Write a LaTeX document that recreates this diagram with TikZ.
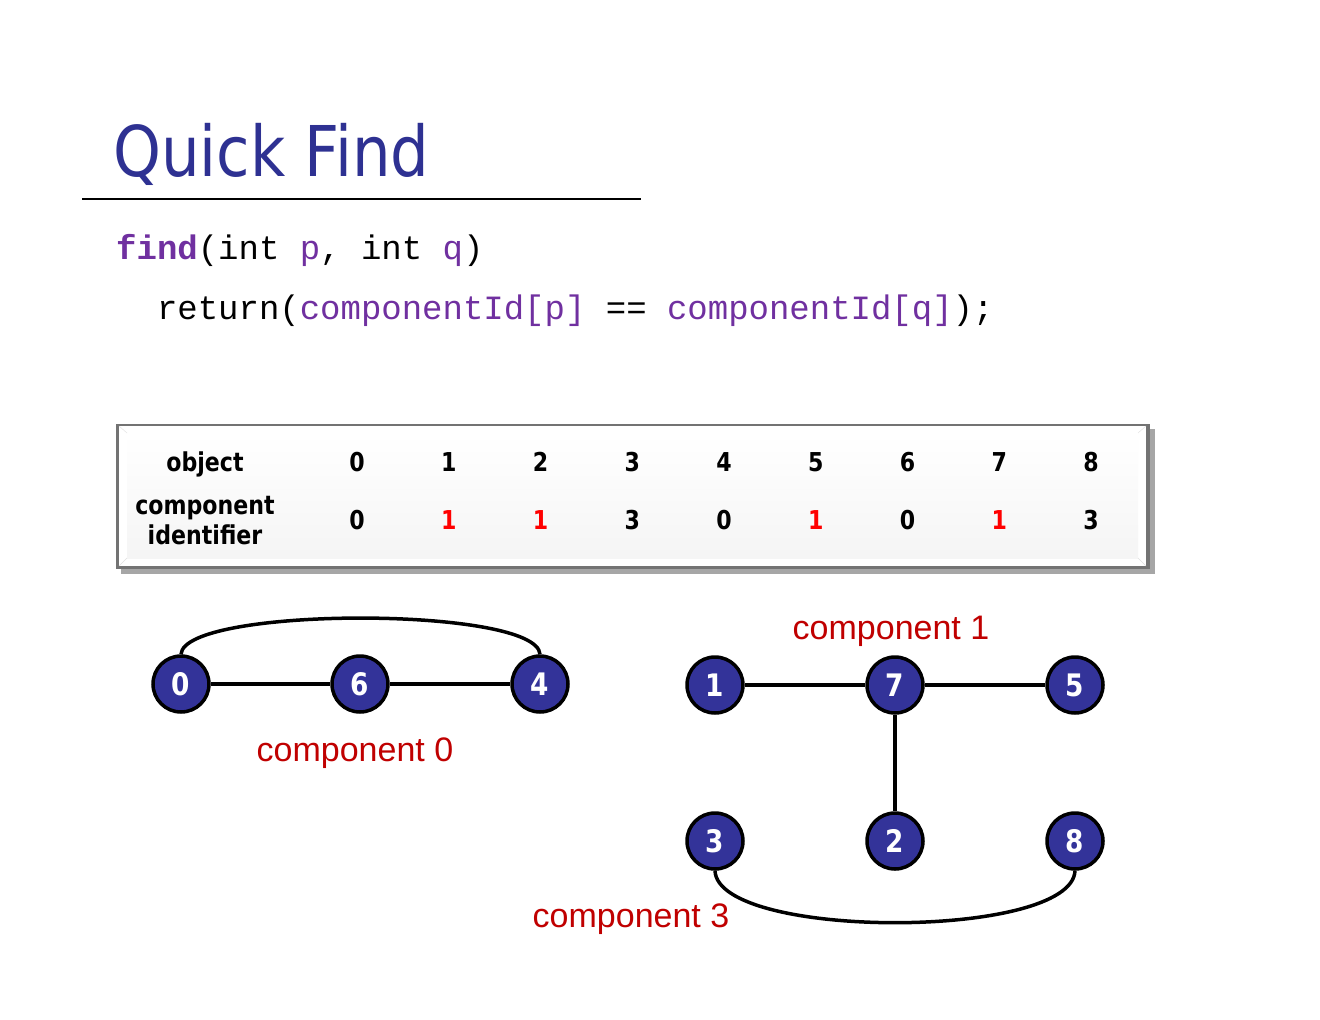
\documentclass[tikz,border=0pt]{standalone}
\usepackage{fontspec}
\setmainfont{Liberation Sans}
\newfontfamily\titlefont[FakeStretch=0.87]{DejaVu Sans}
\newfontfamily\tabfont[FakeStretch=0.85]{DejaVu Sans Bold}
\newfontfamily\codefont{Liberation Mono}
\definecolor{titleblue}{HTML}{2E3192}
\definecolor{codepurple}{HTML}{7030A0}
\definecolor{nodeblue}{HTML}{333399}
\definecolor{labelred}{HTML}{C00000}
\definecolor{idred}{HTML}{FF0000}
\begin{document}
\begin{tikzpicture}[x=1pt,y=-1pt,
  vertex/.style={circle,draw=black,line width=3.5pt,fill=nodeblue,minimum size=56pt,inner sep=0pt,
    text=white,font=\tabfont\fontsize{31}{31}\selectfont},
  edge/.style={line width=3.5pt,black},
  complabel/.style={text=labelred,font=\fontsize{34}{34}\selectfont,inner sep=0pt,anchor=base},
  cell/.style={font=\tabfont\fontsize{26}{28}\selectfont,inner sep=0pt,anchor=base},
  code/.style={font=\codefont\fontsize{34}{36}\selectfont,inner sep=0pt,anchor=base west}]
\useasboundingbox (0,0) rectangle (1320,1020);
\fill[white] (0,0) rectangle (1320,1020);

% title and rule
\node[anchor=base west,inner sep=0pt,text=titleblue,font=\titlefont\fontsize{70}{80}\selectfont] (title) at (113,176) {Quick Find};
\coordinate (ruleA) at (82,199);
\coordinate (ruleB) at (641,199);
\draw[line width=2.5pt] (ruleA) -- (ruleB);

% code
\node[code] (line1) at (116,259) {\textcolor{codepurple}{\textbf{find}}(int \textcolor{codepurple}{p}, int \textcolor{codepurple}{q})};
\node[code] (line2) at (116,319) {\ \ return(\textcolor{codepurple}{componentId[p]} == \textcolor{codepurple}{componentId[q]});};

% table frame with bevel and drop shadow
\fill[black!35] (121,429) rectangle (1155,574);
\fill[black!55] (116,424) rectangle (1150,569);
\fill[white] (119,426) rectangle (1146,566);
\shade[top color=white,bottom color=black!4] (127,433) rectangle (1138,558);
\draw[black!12] (119,426) -- (127,433) (1146,426) -- (1138,433) (119,566) -- (127,558) (1146,566) -- (1138,558);

% table contents
\node[cell] (hobj) at (205,471) {object};
\node[cell] (hcomp) at (205,514) {component};
\node[cell] (hident) at (205,544) {identifier};
\foreach \i/\v/\c [count=\k from 0] in {0/0/black,1/1/idred,2/1/idred,3/3/black,4/0/black,5/1/idred,6/0/black,7/1/idred,8/3/black}{
  \node[cell] (o\i) at (357+91.75*\k,471) {\i};
  \node[cell,text=\c] (id\i) at (357+91.75*\k,529) {\v};
}

% component 0
\node[vertex] (n0) at (181,684) {0};
\node[vertex] (n6) at (360,684) {6};
\node[vertex] (n4) at (540,684) {4};
% component 1
\node[vertex] (n1) at (715,685) {1};
\node[vertex] (n7) at (895,685) {7};
\node[vertex] (n5) at (1075,685) {5};
\node[vertex] (n2) at (895,841) {2};
% component 3
\node[vertex] (n3) at (715,841) {3};
\node[vertex] (n8) at (1075,841) {8};

\draw[edge] (n0) -- (n6);
\draw[edge] (n6) -- (n4);
\draw[edge] (n0.north) .. controls (184,606) and (537,606) .. (n4.north);
\draw[edge] (n1) -- (n7);
\draw[edge] (n7) -- (n5);
\draw[edge] (n7) -- (n2);
\draw[edge] (n3.south) .. controls (718,940) and (1072,940) .. (n8.south);

\node[complabel] (c0) at (355,761) {component 0};
\node[complabel] (c1) at (891,639) {component 1};
\node[complabel] (c3) at (631,927) {component 3};
\end{tikzpicture}
\end{document}
